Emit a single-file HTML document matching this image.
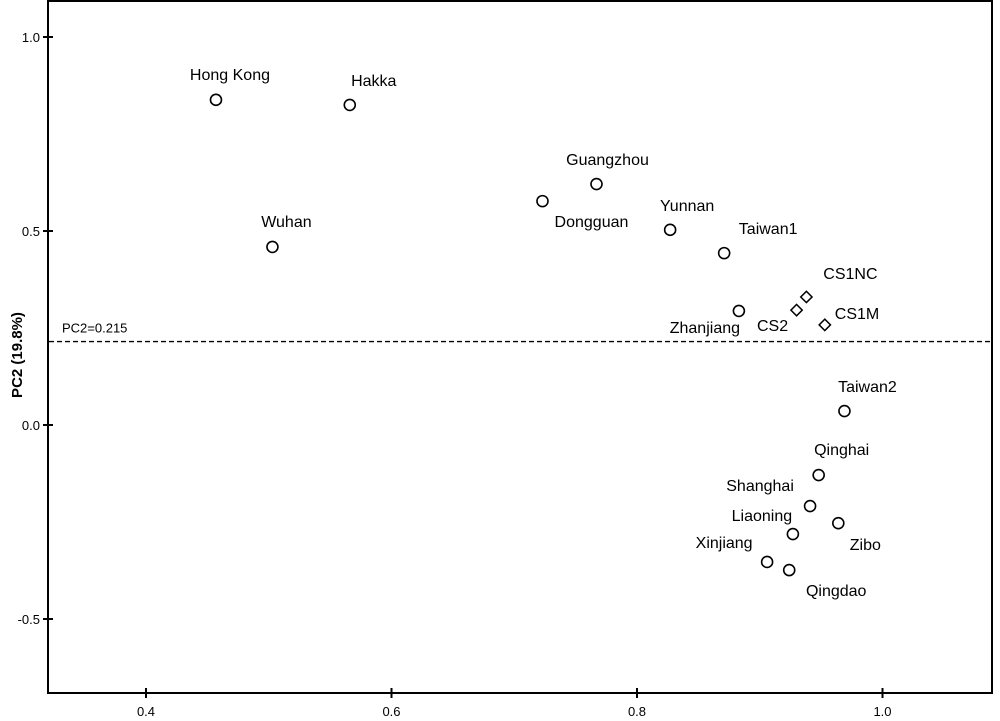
<!DOCTYPE html>
<html><head><meta charset="utf-8"><style>
body{margin:0;background:#fff;}
svg{display:block;font-family:"Liberation Sans",Arial,sans-serif;}
</style></head><body>
<svg id="chart" width="1000" height="721">
<rect x="48" y="1" width="944" height="692" fill="none" stroke="#000" stroke-width="2"/>
<g id="ticks"></g>
<g id="refline"></g>
<g id="points"></g>
<text transform="translate(22,355) rotate(-90)" text-anchor="middle" font-size="15" font-weight="bold">PC2 (19.8%)</text>
</svg>
<script>
const names=["Hong Kong","Hakka","Wuhan","Dongguan","Guangzhou","Yunnan","Taiwan1","Zhanjiang","CS2","CS1NC","CS1M","Taiwan2","Qinghai","Shanghai","Liaoning","Zibo","Xinjiang","Qingdao"];
const pc1=[0.457,0.566,0.503,0.723,0.767,0.827,0.871,0.883,0.930,0.938,0.953,0.969,0.948,0.941,0.927,0.964,0.906,0.924];
const pc2=[0.838,0.825,0.459,0.577,0.621,0.503,0.443,0.294,0.296,0.330,0.258,0.036,-0.129,-0.209,-0.281,-0.253,-0.353,-0.374];
const markerType=["o","o","o","o","o","o","o","o","d","d","d","o","o","o","o","o","o","o"];
const xTicks=[0.4,0.6,0.8,1.0];
const yTicks=[1.0,0.5,0.0,-0.5];
const refValue=0.215;
const refLabel="PC2=0.215";
// label offsets (px) relative to marker: dx, dy, anchor
const labelDx=[14,24,14,49,11,17,44,-34,-24,44,10,23,23,-50,-31,27,-43,47];
const labelDy=[-20,-19,-20,26,-19,-19,-19,22,21,-18,-6,-19,-20,-15,-13,27,-14,26];
const labelAnchor=["middle","middle","middle","middle","middle","middle","middle","middle","middle","middle","start","middle","middle","middle","middle","middle","middle","middle"];

const X=v=>146+(v-0.4)*1227.5;
const Y=v=>425-v*388;
const NS="http://www.w3.org/2000/svg";
function mk(tag,attrs,parent){const e=document.createElementNS(NS,tag);for(const k in attrs)e.setAttribute(k,attrs[k]);parent.appendChild(e);return e;}
const tg=document.getElementById('ticks');
xTicks.forEach(t=>{
  const l=mk('line',{x1:X(t),x2:X(t),y1:688,y2:698,stroke:'#000','stroke-width':2},tg);
  
  
  const tx=mk('text',{x:X(t),y:716,'text-anchor':'middle','font-size':13},tg);
  tx.textContent=t.toFixed(1);
  
  
});
yTicks.forEach(t=>{
  const l=mk('line',{x1:43,x2:53,y1:Y(t),y2:Y(t),stroke:'#000','stroke-width':2},tg);
  
  
  const tx=mk('text',{x:40,y:Y(t)+5,'text-anchor':'end','font-size':13},tg);
  tx.textContent=t.toFixed(1);
  
  
});
const rg=document.getElementById('refline');
const rl=mk('line',{x1:49,x2:991,y1:Y(refValue),y2:Y(refValue),stroke:'#000','stroke-width':1.3,'stroke-dasharray':'5,3'},rg);


const rt=mk('text',{x:62,y:Y(refValue)-9,'font-size':13},rg);
rt.textContent=refLabel;


const pg=document.getElementById('points');
names.forEach((n,i)=>{
  const cx=X(pc1[i]),cy=Y(pc2[i]);
  let m;
  if(markerType[i]==='d'){
    m=mk('rect',{x:cx-4,y:cy-4,width:8,height:8,fill:'#fff',stroke:'#000','stroke-width':1.5,transform:`rotate(45 ${cx} ${cy})`},pg);
  }else{
    m=mk('circle',{cx:cx,cy:cy,r:5.5,fill:'#fff',stroke:'#000','stroke-width':1.6},pg);
  }
  
  
  const t=mk('text',{x:cx+labelDx[i],y:cy+labelDy[i],'text-anchor':labelAnchor[i],'font-size':16},pg);
  t.textContent=n;
  
  
});
</script>
</body></html>
